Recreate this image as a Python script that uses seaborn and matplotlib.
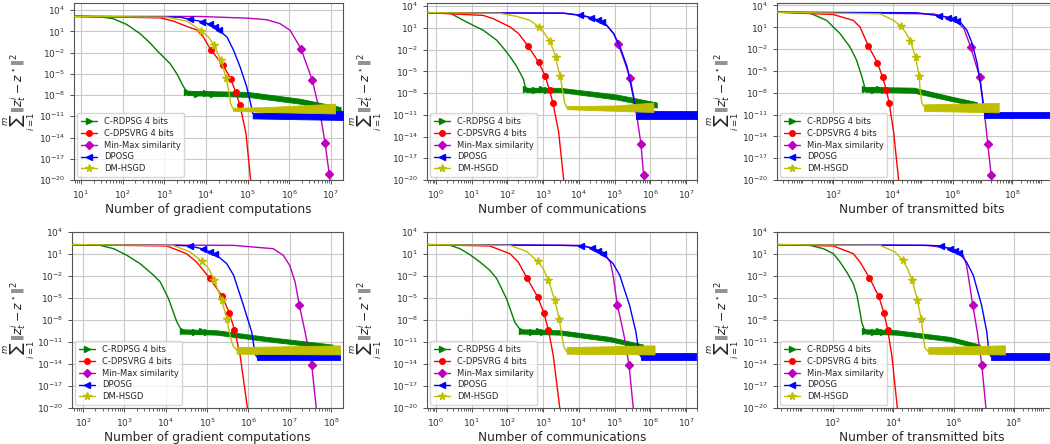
import numpy as np
import matplotlib
matplotlib.use("Agg")
import matplotlib.pyplot as plt
import seaborn as sns
from matplotlib.lines import Line2D
from matplotlib.ticker import NullLocator

METHODS = ["C-RDPSG 4 bits", "C-DPSVRG 4 bits", "Min-Max similarity", "DPOSG", "DM-HSGD"]
COLORS = ["g", "r", "m", "b", "y"]
MARKERS = [">", "o", "D", "<", "*"]
XLABELS = ["Number of gradient computations", "Number of communications",
           "Number of transmitted bits"]
YLABEL = r"$\sum_{i=1}^{m}\|z_t^i - z^\star\|^2$"

# ---- top row: curves as (x, y) pairs, markers, noisy tails as (x, low, high)
P1_CRDPSG = [(6.8, 1.3e3), (29, 1.1e3), (60, 6e2), (125, 93), (263, 4.6), (457, 0.22), (660, 0.02),
             (870, 4e-3), (1380, 2.7e-4), (2000, 1e-5), (2750, 2.5e-7), (3470, 2.8e-8)]
P1_CRDPSG_BAND = [(3470, 1e-8, 4e-8), (1e5, 5.5e-9, 2.8e-8), (1.8e6, 6e-10, 3e-9), (1.7e7, 4e-11, 2e-10)]
P1_CRDPSG_MARKS = [(3.5e3, 2.5e-8), (6e3, 1.5e-8), (1e4, 2e-8), (1.5e4, 1.5e-8)]
P1_CDPSVRG = [(6.8, 1.3e3), (790, 8e2), (1660, 2.75e2), (3470, 49), (6000, 16), (8700, 1.5), (1.3e4, 0.025),
              (2.6e4, 1.5e-4), (3.9e4, 2e-6), (5.2e4, 2.5e-8), (6.5e4, 4e-10), (9.1e4, 4e-14),
              (1.18e5, 1e-20), (1.3e5, 1e-22)]
P1_CDPSVRG_MARKS = [(1.3e4, 0.025), (2.6e4, 1.5e-4), (3.9e4, 2e-6), (5.2e4, 2.5e-8), (6.5e4, 4e-10)]
P1_MINMAX = [(6.8, 1.3e3), (7200, 1.25e3), (1e5, 7.2e2), (2.9e5, 4.3e2), (6e5, 1.2e2), (1.05e6, 13.5),
             (1.9e6, 0.035), (3.55e6, 1.26e-6), (5.5e6, 2.5e-11), (7.2e6, 1.6e-15), (9.1e6, 6.3e-20),
             (9.8e6, 1e-21)]
P1_MINMAX_MARKS = [(1.9e6, 0.035), (3.55e6, 1.26e-6), (7.2e6, 1.6e-15), (9.1e6, 6.3e-20)]
P1_DPOSG = [(6.8, 1.3e3), (2400, 1e3), (4100, 4.8e2), (7200, 2.75e2), (1.5e4, 68), (2e4, 16), (3.2e4, 1.5),
            (4.6e4, 0.02), (6.6e4, 9e-5), (9.5e4, 1.4e-7), (1.18e5, 6.3e-10), (1.32e5, 2.5e-11)]
P1_DPOSG_MARKS = [(4.1e3, 4.8e2), (8.2e3, 2.4e2), (1.23e4, 1e2), (1.64e4, 40), (2.05e4, 15)]
P1_DPOSG_BAND = [(1.32e5, 5e-12, 3e-11), (1.94e7, 3e-12, 6e-11)]
P1_DMHSGD = [(6.8, 1.3e3), (1150, 1e3), (3470, 2.75e2), (7600, 13), (1.15e4, 1.5), (1.52e4, 0.13),
             (2.28e4, 8e-4), (3.04e4, 3e-6), (3.5e4, 5e-8), (3.9e4, 6.3e-10), (4.4e4, 1.26e-10)]
P1_DMHSGD_MARKS = [(7.6e3, 13), (1.52e4, 0.13), (2.28e4, 8e-4), (3.04e4, 3e-6)]
P1_DMHSGD_BAND = [(4.4e4, 6e-11, 1.6e-10), (2.9e5, 4e-11, 2e-10), (1.25e7, 2.5e-11, 6e-10)]

P2_CRDPSG = [(0.56, 1.3e3), (2.5, 1.1e3), (5.9, 1.1e2), (11, 23), (21, 4.8), (50, 0.2), (85, 9e-3),
             (118, 1.1e-3), (180, 5e-5), (280, 8e-7), (325, 4e-8)]
P2_CRDPSG_BAND = [(325, 1.4e-8, 5.4e-8), (3e3, 1.4e-8, 5.4e-8), (1.15e5, 1.3e-9, 6.3e-9), (1.5e6, 1e-10, 5e-10)]
P2_CRDPSG_MARKS = [(330, 4e-8), (600, 3e-8), (900, 4e-8), (1300, 3e-8)]
P2_CDPSVRG = [(0.56, 1.3e3), (21, 5.4e2), (40, 1.86e2), (118, 14), (204, 1.7), (375, 0.032), (750, 1.7e-4),
              (1125, 2.5e-6), (1500, 2.5e-8), (1875, 4e-10), (2700, 4e-14), (3700, 1.6e-20), (4100, 2.5e-22)]
P2_CDPSVRG_MARKS = [(375, 0.032), (750, 1.7e-4), (1125, 2.5e-6), (1500, 2.5e-8), (1875, 4e-10)]
P2_MINMAX = [(0.56, 1.3e3), (3700, 1.1e3), (1.35e4, 5.4e2), (4.9e4, 66), (9.3e4, 1.7), (1.26e5, 0.054),
             (1.8e5, 4e-4), (2.7e5, 1.26e-6), (3.5e5, 1.4e-9), (4.4e5, 1e-12), (5.4e5, 1e-15),
             (6.4e5, 5e-20), (6.9e5, 2e-21)]
P2_MINMAX_MARKS = [(1.26e5, 0.054), (2.7e5, 1.26e-6), (5.4e5, 1e-15), (6.4e5, 5e-20)]
P2_DPOSG = [(0.56, 1.3e3), (3700, 1.1e3), (1.07e4, 5.4e2), (2.3e4, 2.5e2), (4e4, 90), (6e4, 23),
            (9.3e4, 1.7), (1.4e5, 0.025), (2.2e5, 5e-5), (3e5, 3e-8), (3.5e5, 8e-10), (4e5, 2e-11)]
P2_DPOSG_MARKS = [(1.07e4, 5.4e2), (2.2e4, 2.6e2), (3.3e4, 1.3e2), (4.4e4, 75)]
P2_DPOSG_BAND = [(4e5, 2.5e-12, 3e-11), (2e7, 2.5e-12, 3e-11)]
P2_DMHSGD = [(0.56, 1.3e3), (60, 1.1e3), (180, 4e2), (430, 1.1e2), (750, 14), (1100, 1.7), (1500, 0.17),
             (2250, 1.1e-3), (2500, 5e-5), (3000, 2e-6), (3450, 3e-8), (3950, 5e-10), (4550, 1e-10)]
P2_DMHSGD_MARKS = [(750, 14), (1500, 0.17), (2250, 1.1e-3), (3000, 2e-6)]
P2_DMHSGD_BAND = [(4550, 6e-11, 1.6e-10), (1.15e5, 3.5e-11, 2e-10), (1.2e6, 2.5e-11, 5e-10)]

P3_CRDPSG = [(1.3, 1.2e3), (16.5, 9e2), (60, 89), (167, 1.4), (360, 0.021), (600, 3.2e-4), (900, 1.8e-6),
             (1170, 3.4e-8)]
P3_CRDPSG_BAND = [(1170, 1.35e-8, 6.3e-8), (5e4, 1e-8, 5e-8), (8.3e5, 8e-10, 3.2e-9), (6.6e6, 1.26e-10, 5e-10)]
P3_CRDPSG_MARKS = [(1200, 3.4e-8), (2300, 2.5e-8), (3500, 3.5e-8), (5000, 2.5e-8)]
P3_CDPSVRG = [(1.3, 1.2e3), (100, 5.75e2), (470, 89), (790, 11), (1500, 0.026), (3000, 1.4e-4),
              (4500, 1.4e-6), (6000, 2.2e-8), (7500, 3.5e-10), (1.05e4, 4e-14), (1.55e4, 1e-20), (1.7e4, 8e-22)]
P3_CDPSVRG_MARKS = [(1500, 0.026), (3000, 1.4e-4), (4500, 1.4e-6), (6000, 2.2e-8), (7500, 3.5e-10)]
P3_MINMAX = [(1.3, 1.2e3), (2.3e5, 7e2), (1.1e6, 1.5e2), (2.4e6, 6.3), (4e6, 0.021), (5.8e6, 1.26e-4),
             (8.1e6, 1.5e-6), (1.1e7, 1.6e-10), (1.5e7, 1e-15), (1.95e7, 5e-20), (2.2e7, 2e-21)]
P3_MINMAX_MARKS = [(4e6, 0.021), (8.1e6, 1.5e-6), (1.5e7, 1e-15), (1.95e7, 5e-20)]
P3_DPOSG = [(1.3, 1.2e3), (6.3e4, 1e3), (3e5, 4.2e2), (8.3e5, 2e2), (1.8e6, 52), (3e6, 4), (4.5e6, 0.063),
            (6.6e6, 1.26e-4), (8.5e6, 2.2e-7), (1e7, 1.26e-9), (1.1e7, 2e-11)]
P3_DPOSG_MARKS = [(3.4e5, 4e2), (7e5, 2.2e2), (1.06e6, 1.3e2), (1.4e6, 80)]
P3_DPOSG_BAND = [(1.1e7, 3e-12, 2.5e-11), (6.8e9, 3e-12, 2.5e-11)]
P3_DMHSGD = [(1.3, 1.2e3), (3700, 7e2), (1.05e4, 89), (1.9e4, 13.5), (2.8e4, 1.4), (3.8e4, 0.14),
             (5.7e4, 8e-4), (7.6e4, 1.8e-6), (8.1e4, 2.8e-8), (9.3e4, 4e-10), (1.1e5, 1.26e-10)]
P3_DMHSGD_MARKS = [(1.9e4, 13.5), (3.8e4, 0.14), (5.7e4, 8e-4), (7.6e4, 1.8e-6)]
P3_DMHSGD_BAND = [(1.1e5, 3.2e-11, 2.5e-10), (3.5e7, 2e-11, 4e-10)]

# ---- bottom row
P4_CRDPSG = [(54, 1.9e2), (260, 1.5e2), (550, 53), (1150, 6.6), (2400, 0.48), (5100, 0.0126), (7400, 1.5e-3),
             (1.17e4, 8e-6), (1.86e4, 5.4e-9), (2.5e4, 2.8e-10)]
P4_CRDPSG_BAND = [(2.5e4, 1.4e-10, 5.4e-10), (1.7e5, 1e-10, 4e-10), (2.8e6, 1.26e-11, 5e-11),
                  (1.1e8, 1.26e-12, 4.4e-12)]
P4_CRDPSG_MARKS = [(2.6e4, 2.8e-10), (5e4, 2.2e-10), (7.5e4, 2.8e-10), (1e5, 2.2e-10)]
P4_CDPSVRG = [(54, 1.9e2), (1.07e4, 1.23e2), (3.2e4, 11), (5.6e4, 0.8), (1.15e5, 5.4e-3), (2.3e5, 1.9e-5),
              (3.45e5, 1e-7), (4.6e5, 5e-10), (6.3e5, 1.6e-13), (9.5e5, 1e-20), (1e6, 6e-22)]
P4_CDPSVRG_MARKS = [(1.15e5, 5.4e-3), (2.3e5, 1.9e-5), (3.45e5, 1e-7), (4.6e5, 5e-10)]
P4_MINMAX = [(54, 1.9e2), (4.4e5, 1.5e2), (4e6, 53), (7e6, 6.6), (1e7, 0.28), (1.35e7, 1.6e-3),
             (1.7e7, 1.26e-6), (2.35e7, 2.5e-10), (3.4e7, 8e-15), (4.4e7, 1e-20), (4.5e7, 1e-21)]
P4_MINMAX_MARKS = [(1.7e7, 1.26e-6), (3.4e7, 8e-15)]
P4_DPOSG = [(54, 1.9e2), (1.86e4, 1.5e2), (3.9e4, 1.25e2), (7.8e4, 50), (1.17e5, 20), (1.66e5, 8),
            (3e5, 0.48), (4.4e5, 0.0126), (7.6e5, 1e-6), (1.2e6, 2.5e-10), (1.45e6, 2.5e-13), (1.6e6, 9e-14)]
P4_DPOSG_MARKS = [(3.9e4, 1.25e2), (7.8e4, 50), (1.17e5, 20), (1.56e5, 9)]
P4_DPOSG_BAND = [(1.6e6, 3.2e-14, 2.2e-13), (1.65e8, 3.2e-14, 2.2e-13)]
P4_DMHSGD = [(54, 1.9e2), (1.5e4, 1.5e2), (3.9e4, 19), (7.5e4, 1), (1.1e5, 0.1), (1.5e5, 2.5e-3),
             (2.25e5, 6e-6), (3e5, 1.6e-8), (3.6e5, 8e-11), (4.2e5, 3.5e-12), (5.2e5, 8e-13)]
P4_DMHSGD_MARKS = [(7.5e4, 1), (1.5e5, 2.5e-3), (2.25e5, 6e-6), (3e5, 1.6e-8)]
P4_DMHSGD_BAND = [(5.2e5, 2.5e-13, 2e-12), (1.65e8, 2e-13, 3.5e-12)]

P5_CRDPSG = [(0.56, 1.9e2), (2.5, 1.5e2), (4.7, 53), (8.9, 8), (17, 0.8), (32, 0.06), (50, 4.4e-3),
             (94, 8e-6), (160, 5e-9), (245, 2.8e-10)]
P5_CRDPSG_BAND = [(245, 1.4e-10, 5.4e-10), (2900, 1e-10, 4e-10), (7.2e4, 1.26e-11, 5e-11),
                  (6.3e5, 1.26e-12, 4.4e-12)]
P5_CRDPSG_MARKS = [(250, 2.8e-10), (500, 2.2e-10), (750, 2.8e-10), (1000, 2.2e-10)]
P5_CDPSVRG = [(0.56, 1.9e2), (32, 1.23e2), (117, 11), (200, 0.8), (350, 5.4e-3), (700, 1.4e-5),
              (1050, 8e-8), (1400, 4e-10), (1900, 1.6e-13), (2900, 1e-20), (3100, 1e-21)]
P5_CDPSVRG_MARKS = [(350, 5.4e-3), (700, 1.4e-5), (1050, 8e-8), (1400, 4e-10)]
P5_MINMAX = [(0.56, 1.9e2), (1.3e4, 1.5e2), (4.7e4, 19), (7.5e4, 0.8), (9e4, 1.26e-2), (1.18e5, 1.26e-6),
             (1.8e5, 1e-10), (2.5e5, 8e-15), (3.3e5, 1e-20), (3.5e5, 1e-21)]
P5_MINMAX_MARKS = [(1.18e5, 1.26e-6), (2.5e5, 8e-15)]
P5_DPOSG = [(0.56, 1.9e2), (3600, 1.5e2), (1.17e4, 1.25e2), (2.5e4, 66), (4.6e4, 11), (9e4, 0.48),
            (1.38e5, 0.0126), (2.6e5, 1e-6), (3.9e5, 2.5e-10), (4.8e5, 2.5e-13), (5.5e5, 9e-14)]
P5_DPOSG_MARKS = [(1.17e4, 1.25e2), (2.34e4, 70), (3.5e4, 25), (4.7e4, 11)]
P5_DPOSG_BAND = [(5.5e5, 3.2e-14, 2.8e-13), (1.9e7, 3.2e-14, 2.8e-13)]
P5_DMHSGD = [(0.56, 1.9e2), (117, 1.5e2), (340, 23), (700, 1), (1000, 0.1), (1400, 2.5e-3), (2100, 5e-6),
             (2800, 1.3e-8), (3300, 8e-11), (3800, 2e-12), (4500, 5e-13)]
P5_DMHSGD_MARKS = [(700, 1), (1400, 2.5e-3), (2100, 5e-6), (2800, 1.3e-8)]
P5_DMHSGD_BAND = [(4500, 2.5e-13, 2e-12), (1.3e6, 2e-13, 3.5e-12)]

P6_CRDPSG = [(1.5, 1.9e2), (18, 1.5e2), (49, 53), (105, 11), (175, 0.8), (290, 0.035), (480, 9e-4),
             (630, 2.5e-5), (800, 1.3e-7), (910, 5e-9), (1170, 2.8e-10)]
P6_CRDPSG_BAND = [(1170, 1.4e-10, 5.4e-10), (1.3e4, 1e-10, 4e-10), (7.6e5, 1.26e-11, 5e-11),
                  (7.4e6, 1.26e-12, 4.4e-12)]
P6_CRDPSG_MARKS = [(1200, 2.8e-10), (2300, 2.2e-10), (3500, 2.8e-10), (4700, 2.2e-10)]
P6_CDPSVRG = [(1.5, 1.9e2), (105, 1.23e2), (480, 11), (800, 0.8), (1650, 5.4e-3), (3300, 1.9e-5),
              (4950, 1e-7), (6600, 5e-10), (9000, 1.6e-13), (1.38e4, 1e-20), (1.45e4, 1e-21)]
P6_CDPSVRG_MARKS = [(1650, 5.4e-3), (3300, 1.9e-5), (4950, 1e-7), (6600, 5e-10)]
P6_MINMAX = [(1.5, 1.9e2), (1.26e5, 1.5e2), (9.8e5, 53), (2.1e6, 6.6), (2.7e6, 0.28), (3.3e6, 1.6e-3),
             (4.3e6, 1.26e-6), (6.1e6, 2.5e-10), (8.6e6, 8e-15), (1.18e7, 1e-20), (1.23e7, 1e-21)]
P6_MINMAX_MARKS = [(4.3e6, 1.26e-6), (8.6e6, 8e-15)]
P6_DPOSG = [(1.5, 1.9e2), (1.66e5, 1.5e2), (3.75e5, 1.25e2), (7.5e5, 55), (1.125e6, 25), (1.6e6, 11),
            (2.7e6, 0.8), (4.5e6, 0.0126), (8.5e6, 1e-6), (1.26e7, 2.5e-10), (1.5e7, 2.5e-13), (1.8e7, 9e-14)]
P6_DPOSG_MARKS = [(3.75e5, 1.25e2), (7.5e5, 55), (1.125e6, 25), (1.5e6, 12)]
P6_DPOSG_BAND = [(1.8e7, 3.2e-14, 2.8e-13), (5.7e9, 3.2e-14, 2.8e-13)]
P6_DMHSGD = [(1.5, 1.9e2), (3700, 1.5e2), (1.15e4, 19), (2.1e4, 1.4), (3e4, 0.1), (4.2e4, 3.2e-3),
             (6.3e4, 6e-6), (8.4e4, 1.6e-8), (1e5, 8e-11), (1.1e5, 2e-12), (1.45e5, 5e-13)]
P6_DMHSGD_MARKS = [(2.1e4, 1.4), (4.2e4, 3.2e-3), (6.3e4, 6e-6), (8.4e4, 1.6e-8)]
P6_DMHSGD_BAND = [(1.45e5, 2.5e-13, 2e-12), (5e7, 2e-13, 3.5e-12)]

PANELS = [
    ([P1_CRDPSG, P1_CDPSVRG, P1_MINMAX, P1_DPOSG, P1_DMHSGD],
     [P1_CRDPSG_MARKS, P1_CDPSVRG_MARKS, P1_MINMAX_MARKS, P1_DPOSG_MARKS, P1_DMHSGD_MARKS],
     [P1_CRDPSG_BAND, None, None, P1_DPOSG_BAND, P1_DMHSGD_BAND]),
    ([P2_CRDPSG, P2_CDPSVRG, P2_MINMAX, P2_DPOSG, P2_DMHSGD],
     [P2_CRDPSG_MARKS, P2_CDPSVRG_MARKS, P2_MINMAX_MARKS, P2_DPOSG_MARKS, P2_DMHSGD_MARKS],
     [P2_CRDPSG_BAND, None, None, P2_DPOSG_BAND, P2_DMHSGD_BAND]),
    ([P3_CRDPSG, P3_CDPSVRG, P3_MINMAX, P3_DPOSG, P3_DMHSGD],
     [P3_CRDPSG_MARKS, P3_CDPSVRG_MARKS, P3_MINMAX_MARKS, P3_DPOSG_MARKS, P3_DMHSGD_MARKS],
     [P3_CRDPSG_BAND, None, None, P3_DPOSG_BAND, P3_DMHSGD_BAND]),
    ([P4_CRDPSG, P4_CDPSVRG, P4_MINMAX, P4_DPOSG, P4_DMHSGD],
     [P4_CRDPSG_MARKS, P4_CDPSVRG_MARKS, P4_MINMAX_MARKS, P4_DPOSG_MARKS, P4_DMHSGD_MARKS],
     [P4_CRDPSG_BAND, None, None, P4_DPOSG_BAND, P4_DMHSGD_BAND]),
    ([P5_CRDPSG, P5_CDPSVRG, P5_MINMAX, P5_DPOSG, P5_DMHSGD],
     [P5_CRDPSG_MARKS, P5_CDPSVRG_MARKS, P5_MINMAX_MARKS, P5_DPOSG_MARKS, P5_DMHSGD_MARKS],
     [P5_CRDPSG_BAND, None, None, P5_DPOSG_BAND, P5_DMHSGD_BAND]),
    ([P6_CRDPSG, P6_CDPSVRG, P6_MINMAX, P6_DPOSG, P6_DMHSGD],
     [P6_CRDPSG_MARKS, P6_CDPSVRG_MARKS, P6_MINMAX_MARKS, P6_DPOSG_MARKS, P6_DMHSGD_MARKS],
     [P6_CRDPSG_BAND, None, None, P6_DPOSG_BAND, P6_DMHSGD_BAND]),
]

# axes limits per panel
XLIMS = [(6.8, 1.94e7), (0.56, 2e7), (1.3, 6.8e9), (54, 1.95e8), (0.56, 2e7), (1.43, 5.7e9)]
YTOPS = [1e5, 2.8e4, 2.2e4, 1e4, 1e4, 1e4]

sns.set_style("ticks")
plt.rcParams["font.family"] = ["DejaVu Sans"]
plt.rcParams["mathtext.fontset"] = "dejavusans"

fig = plt.figure(figsize=(10.5, 4.44), dpi=100)
W, H = 1050, 444
# pixel boxes (left, top, right, bottom) and y-label centre x in pixels
boxes = [(74, 3, 343, 180), (427, 3, 697, 180), (777, 3, 1067, 180),
         (72, 232, 343, 408), (427, 232, 697, 408), (777, 232, 1067, 408)]
label_x = [19, 366, 723, 19, 366, 723]

for k, (curves, marks, bands) in enumerate(PANELS):
    l, t, r, b = boxes[k]
    ax = fig.add_axes([l / W, 1 - b / H, (r - l) / W, (b - t) / H])
    ax.set_xscale("log")
    ax.set_yscale("log")
    for i in range(5):
        c = COLORS[i]
        pts = np.array(curves[i])
        sns.lineplot(x=pts[:, 0], y=pts[:, 1], ax=ax, color=c, lw=1.0,
                     estimator=None, sort=False, zorder=2 + i)
        if bands[i] is not None:
            bd = np.array(bands[i])
            ax.fill_between(bd[:, 0], bd[:, 1], bd[:, 2], color=c, lw=0.6,
                            edgecolor=c, zorder=2 + i)
        mk = np.array(marks[i])
        ax.plot(mk[:, 0], mk[:, 1], ls="none", marker=MARKERS[i], color=c,
                ms=5.5 if MARKERS[i] == "*" else 4, zorder=2 + i)
    ax.set_xlim(*XLIMS[k])
    ax.set_ylim(1e-20, YTOPS[k])
    ax.set_yticks(10.0 ** np.arange(-20, 5, 3))
    ax.yaxis.set_minor_locator(NullLocator())
    if k % 3 == 2:
        ax.set_xticks([1e2, 1e4, 1e6, 1e8])
    ax.grid(True, which="major", color="#c8c8c8", lw=0.8)
    ax.tick_params(labelsize=6.5, colors="#333333", length=3, width=0.6)
    ax.tick_params(which="minor", length=1.8, width=0.5)
    for s in ax.spines.values():
        s.set_color("#555555")
        s.set_linewidth(0.8)
    ax.set_xlabel(XLABELS[k % 3], fontsize=8.7, labelpad=1)
    ax.set_ylabel(YLABEL, fontsize=8.8, va="center")
    ax.yaxis.set_label_coords((label_x[k] - l) / (r - l), 0.5)
    handles = [Line2D([], [], color=COLORS[i], marker=MARKERS[i], lw=1.0,
                      ms=5.5 if MARKERS[i] == "*" else 4) for i in range(5)]
    ax.legend(handles, METHODS, loc="lower left", fontsize=6, framealpha=0.8,
              borderaxespad=0.4, handlelength=2.0, labelspacing=0.35)

fig.savefig("out.png", dpi=100)
